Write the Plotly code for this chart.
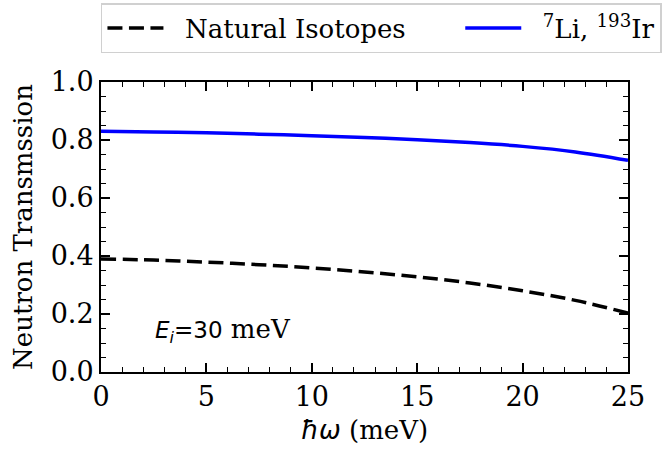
import plotly.graph_objects as go

# Energy transfer (meV)
energy = [0, 2.5, 5, 7.5, 10, 12.5, 15, 17.5, 20, 22.5, 25]
# Neutron transmission for natural-abundance isotopes
natural = [0.390, 0.386, 0.379, 0.370, 0.359, 0.345, 0.328, 0.307, 0.280, 0.247, 0.203]
# Neutron transmission for enriched 7Li and 193Ir
enriched = [0.830, 0.828, 0.825, 0.820, 0.815, 0.809, 0.801, 0.791, 0.778, 0.759, 0.730]

x_ticks = [0, 5, 10, 15, 20, 25]
y_ticks = [0.0, 0.2, 0.4, 0.6, 0.8, 1.0]

SERIF = "DejaVu Serif"
SANS = "DejaVu Sans"
FS = 26
NB = "\u00a0"  # non-breaking space used to pad legend entries

fig = go.Figure()
fig.add_trace(go.Scatter(
    x=energy, y=natural, mode="lines",
    name=NB * 2 + "Natural Isotopes" + NB * 6,
    line=dict(color="black", width=3.5, dash="15px,6.5px", shape="spline"),
))
fig.add_trace(go.Scatter(
    x=energy, y=enriched, mode="lines",
    name=NB * 2 + "<sup>7</sup>Li, <sup>193</sup>Ir",
    line=dict(color="#0000ff", width=3.5, shape="spline"),
))

axis_common = dict(
    showline=True, linecolor="black", linewidth=2, mirror="allticks",
    ticks="inside", ticklen=9, tickwidth=1.6, tickcolor="black",
    showgrid=False, zeroline=False,
    tickfont=dict(family=SERIF, size=27, color="black"),
)

fig.update_xaxes(
    range=[0, 25], tickvals=x_ticks, ticktext=[str(v) for v in x_ticks],
    minor=dict(ticks="inside", dtick=1, ticklen=5, tickwidth=1.3, tickcolor="black"),
    title=dict(
        text=f'<span style="font-family:{SANS}"><i>ħω</i></span> (meV)',
        font=dict(family=SERIF, size=FS, color="black"), standoff=9,
    ),
    **axis_common,
)
fig.update_yaxes(
    range=[0, 1], tickvals=y_ticks, ticktext=[f"{v:.1f}" for v in y_ticks],
    minor=dict(ticks="inside", dtick=0.05, ticklen=5, tickwidth=1.3, tickcolor="black"),
    title=dict(
        text="Neutron Transmssion",
        font=dict(family=SERIF, size=FS, color="black"), standoff=11,
    ),
    **axis_common,
)

fig.add_annotation(
    x=0.099, y=0.144, xref="paper", yref="paper", showarrow=False,
    xanchor="left", yanchor="middle",
    text=(f'<span style="font-family:{SANS};font-size:23px">'
          f'<i>E<sub>i</sub></i>=30</span> meV'),
    font=dict(family=SERIF, size=FS, color="black"),
)

fig.update_layout(
    width=663, height=449,
    margin=dict(l=101, r=35, t=82, b=77, autoexpand=False),
    paper_bgcolor="white", plot_bgcolor="white",
    font=dict(family=SERIF, size=FS, color="black"),
    legend=dict(
        orientation="h", x=-0.0001, xanchor="left", y=1.272, yanchor="top",
        bordercolor="#d0d0d0", borderwidth=1.5, bgcolor="white",
        font=dict(family=SERIF, size=FS, color="black"),
        itemwidth=56,
    ),
)

fig.write_html("out.html")
